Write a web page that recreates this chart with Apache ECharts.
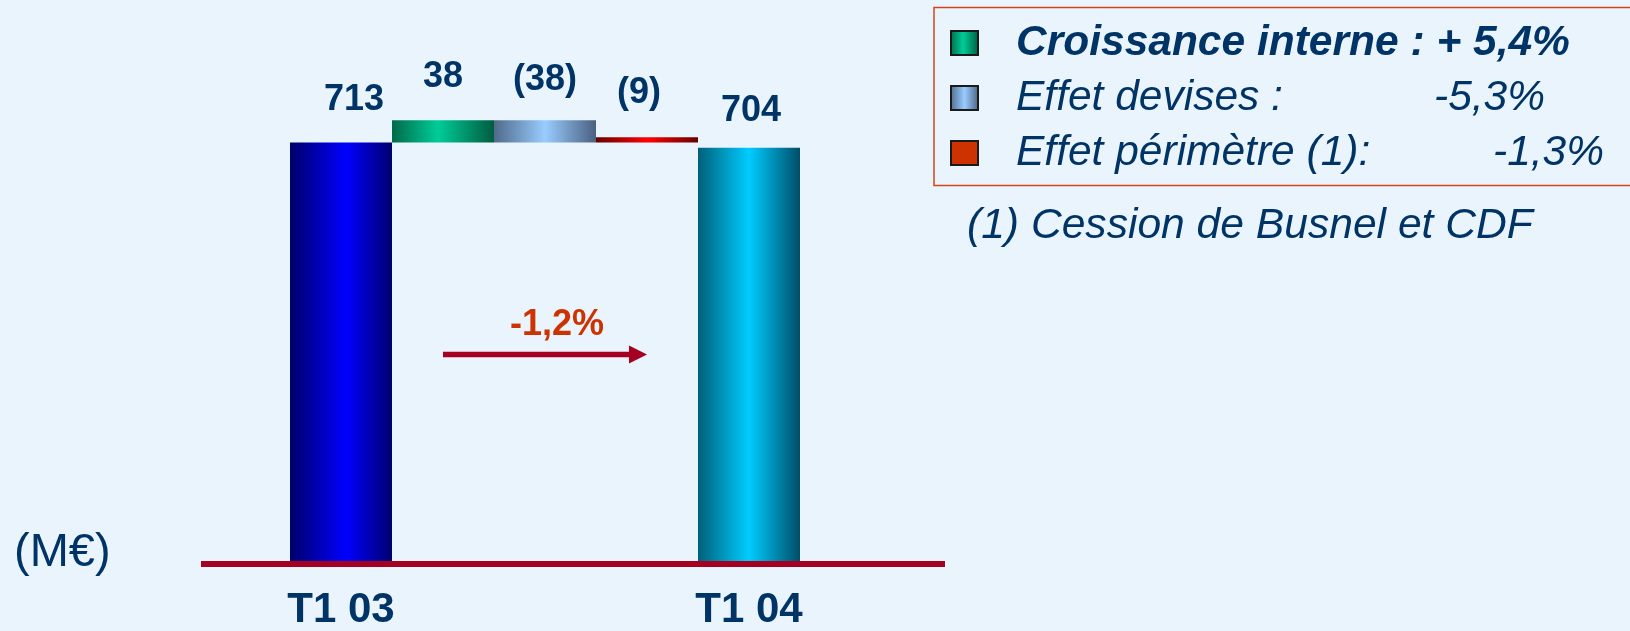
<!DOCTYPE html>
<html>
<head>
<meta charset="utf-8">
<script src="https://cdn.jsdelivr.net/npm/echarts@6/dist/echarts.min.js"></script>
<style>
  html, body { margin: 0; padding: 0; background: #eaf4fd; }
  #chart { width: 1630px; height: 631px; }
</style>
</head>
<body>
<div id="chart"></div>
<script>
// données du graphique (M€)
const categories = ['T1 03', 'Croissance interne', 'Effet devises', 'Effet périmètre (1)', 'T1 04'];
const barBase = [0, 713, 713, 713, 0];
const barSize = [713, 38, 38, 9, 704];
const valueLabels = ['713', '38', '(38)', '(9)', '704'];
const legendNames = ['Croissance interne', 'Effet devises', 'Effet périmètre (1)'];
const legendTexts = ['Croissance interne : + 5,4%', 'Effet devises :', 'Effet périmètre (1):'];
const legendPcts = ['', '-5,3%', '-1,3%'];

const NAVY = '#003366';
const FONT = 'Liberation Sans, Arial, sans-serif';

function hGrad(edgeL, mid, edgeR, pos) {
    return new echarts.graphic.LinearGradient(0, 0, 1, 0, [
        { offset: 0, color: edgeL },
        { offset: pos, color: mid },
        { offset: 1, color: edgeR }
    ]);
}

// couleur de chaque barre
const barColors = [
    hGrad('#00006a', '#0000ff', '#00006e', 0.55),
    hGrad('#006a48', '#00cc99', '#005c3e', 0.45),
    hGrad('#4f6a8a', '#99ccff', '#4a6080', 0.5),
    hGrad('#660000', '#ff0000', '#660000', 0.5),
    hGrad('#00607a', '#00ccff', '#004d66', 0.5)
];
// décalage des étiquettes (px)
const labelShift = [[13, 2], [0, 1], [0, 4], [-8, 0], [2, 7]];
const seriesOf = ['T1', 'Croissance interne', 'Effet devises', 'Effet périmètre (1)', 'T1'];

let chart = echarts.init(document.getElementById('chart'));

let series = [{
    name: 'base',
    type: 'bar',
    stack: 'w',
    silent: true,
    barWidth: '100%',
    itemStyle: { color: 'transparent' },
    data: barBase
}];

['T1'].concat(legendNames).forEach(function (name) {
    series.push({
        name: name,
        type: 'bar',
        stack: 'w',
        barWidth: '100%',
        itemStyle: { color: barColors[seriesOf.indexOf(name)] },
        data: barSize.map(function (v, i) {
            if (seriesOf[i] !== name) return '-';
            return {
                value: v,
                itemStyle: { color: barColors[i] },
                label: {
                    show: true,
                    position: 'top',
                    distance: 26,
                    offset: labelShift[i],
                    formatter: valueLabels[i],
                    fontSize: 36,
                    fontWeight: 'bold',
                    fontFamily: FONT,
                    color: NAVY
                }
            };
        })
    });
});

const legendFont = { fontSize: 42.5, fontStyle: 'italic', color: NAVY, fontFamily: FONT };

let option = {
    backgroundColor: '#eaf4fd',
    animation: false,
    grid: { left: 290, right: 830, top: 91.3, bottom: 67 },
    xAxis: {
        type: 'category',
        data: categories,
        axisLine: { show: false },
        axisTick: { show: false },
        axisLabel: {
            interval: function (index) { return index === 0 || index === categories.length - 1; },
            margin: 27,
            fontSize: 42,
            fontWeight: 'bold',
            fontFamily: FONT,
            color: NAVY
        }
    },
    yAxis: { type: 'value', min: 0, max: 800, show: false },
    legend: {
        orient: 'vertical',
        left: 934,
        top: 7.5,
        padding: [14, 90, 11, 16],
        borderColor: '#d0461c',
        borderWidth: 1.5,
        selectedMode: false,
        itemWidth: 27,
        itemHeight: 24,
        itemGap: 12,
        icon: 'rect',
        itemStyle: { borderColor: '#1a1a1a', borderWidth: 2 },
        data: legendNames.map(function (n, i) {
            return i === 2 ? { name: n, itemStyle: { color: '#cc3300' } } : { name: n };
        }),
        formatter: function (name) {
            let i = legendNames.indexOf(name);
            if (i === 0) return '{sp|\u00a0}{b|' + legendTexts[0] + '}';
            return '{sp|\u00a0}{n' + i + '|' + legendTexts[i] + '}{p|' + legendPcts[i] + '}';
        },
        textStyle: {
            fontFamily: FONT,
            color: NAVY,
            rich: {
                sp: Object.assign({ width: 33 }, legendFont),
                b: Object.assign({ fontWeight: 'bold' }, legendFont),
                n1: Object.assign({ width: 418 }, legendFont),
                n2: Object.assign({ width: 477 }, legendFont),
                p: legendFont
            }
        }
    },
    graphic: [
        // ligne de base
        { type: 'rect', z: 100, shape: { x: 201, y: 561, width: 744, height: 6 }, style: { fill: '#a50021' } },
        // flèche -1,2%
        { type: 'line', z: 100, shape: { x1: 443, y1: 354.5, x2: 631, y2: 354.5 }, style: { stroke: '#a50021', lineWidth: 5.5 } },
        { type: 'polygon', z: 100, shape: { points: [[629, 345.5], [647, 354.5], [629, 363.5]] }, style: { fill: '#a50021' } },
        { type: 'text', z: 100, x: 557, y: 325, style: { text: '-1,2%', fill: '#cc3300', font: 'bold 36px ' + FONT, align: 'center', verticalAlign: 'middle' } },
        { type: 'text', z: 100, x: 14, y: 553, style: { text: '(M€)', fill: NAVY, font: '47px ' + FONT, align: 'left', verticalAlign: 'middle' } },
        { type: 'text', z: 100, x: 967, y: 226, style: { text: '(1) Cession de Busnel et CDF', fill: NAVY, font: 'italic 42.6px ' + FONT, align: 'left', verticalAlign: 'middle' } }
    ],
    series: series
};

chart.setOption(option);
</script>
</body>
</html>
